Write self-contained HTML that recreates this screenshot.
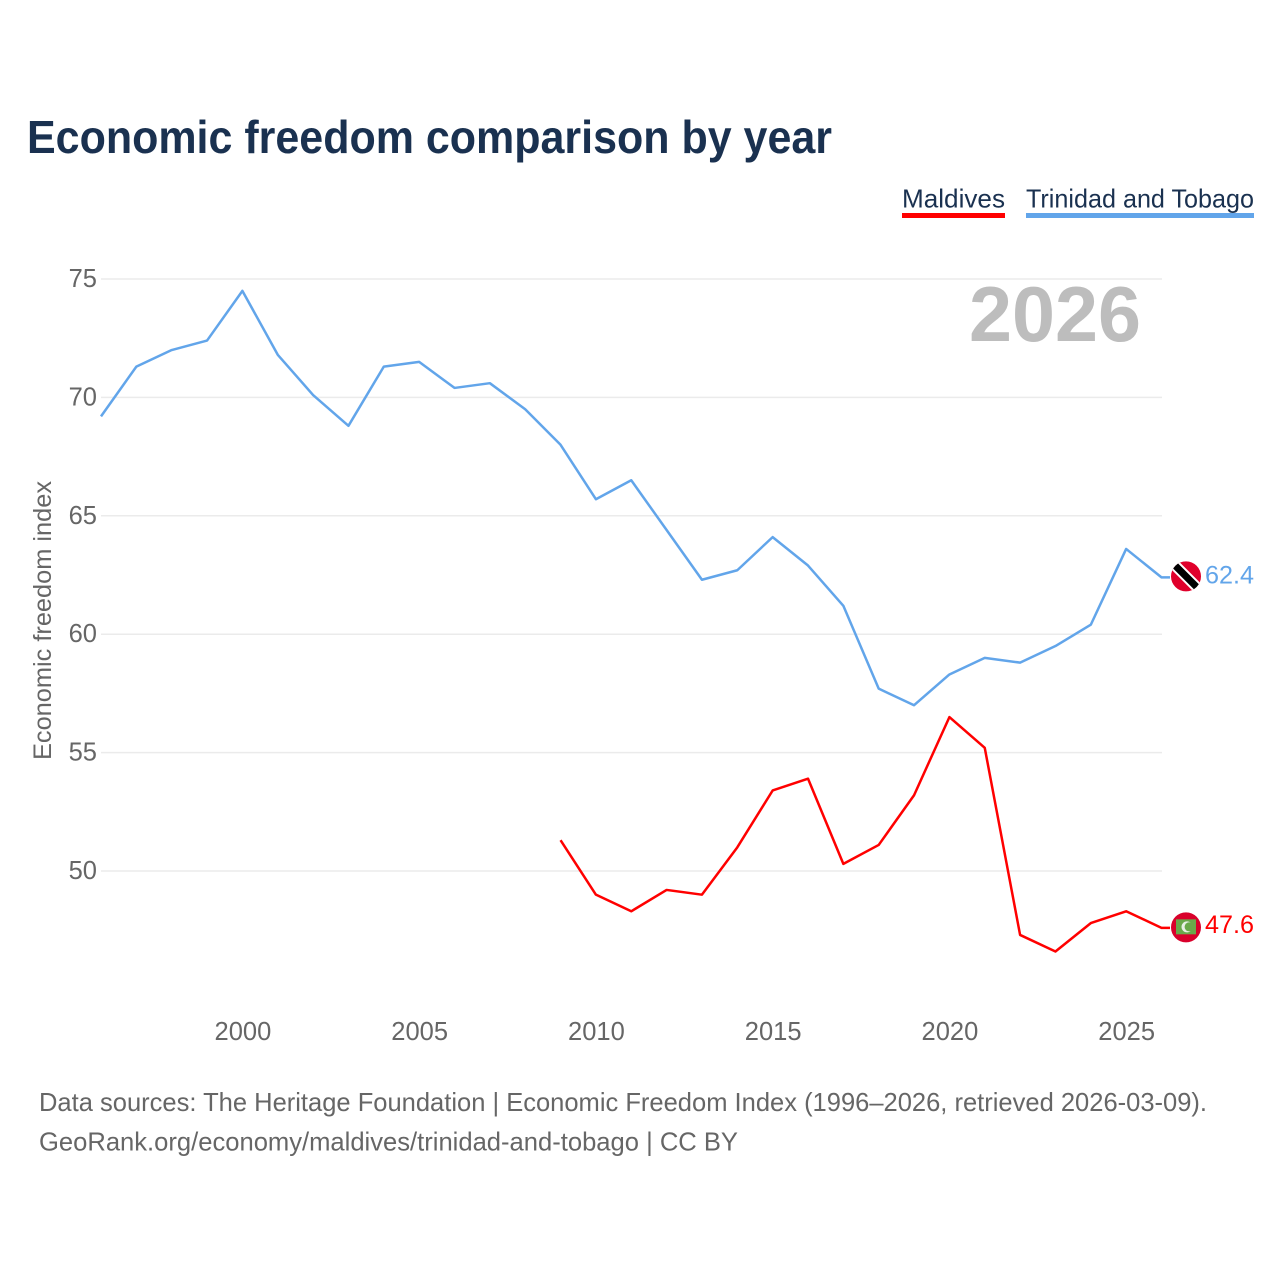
<!DOCTYPE html>
<html lang="en">
<head>
<meta charset="utf-8">
<title>Economic freedom comparison by year</title>
<style>
html,body{margin:0;padding:0;background:#fff;width:1280px;height:1280px;overflow:hidden}
svg{display:block}
text{font-family:"Liberation Sans",sans-serif}
</style>
</head>
<body>
<svg id="chart" xmlns="http://www.w3.org/2000/svg" width="1280" height="1280" viewBox="0 0 1280 1280">
  <text x="27" y="153" font-size="46" font-weight="700" fill="#1a3150" textLength="805" lengthAdjust="spacingAndGlyphs">Economic freedom comparison by year</text>

  <g>
    <g>
      <text x="902" y="207.5" font-size="26" fill="#1a3150" textLength="103" lengthAdjust="spacingAndGlyphs">Maldives</text>
      <rect x="902" y="213" width="103" height="5" fill="#ff0000"/>
    </g>
    <g>
      <text x="1026" y="207.5" font-size="26" fill="#1a3150" textLength="228" lengthAdjust="spacingAndGlyphs">Trinidad and Tobago</text>
      <rect x="1026" y="213" width="228" height="5" fill="#62a5ea"/>
    </g>
  </g>

  <text x="969" y="341" font-size="78" font-weight="700" fill="#bdbdbd" textLength="172" lengthAdjust="spacingAndGlyphs">2026</text>
  <text transform="translate(51,760) rotate(-90)" x="0" y="0" font-size="25" fill="#666666" textLength="279" lengthAdjust="spacingAndGlyphs">Economic freedom index</text>

  <g id="grid"></g>
  <g id="yticks"></g>
  <g id="xticks"></g>
  <g id="series"></g>

  <g id="flag-tt">
    <defs>
      <clipPath id="tt-clip"><circle cx="0" cy="0" r="15"/></clipPath>
    </defs>
    <g clip-path="url(#tt-clip)">
      <rect x="-16" y="-16" width="32" height="32" fill="#e0002b"/>
      <line x1="-16" y1="-16" x2="16" y2="16" stroke="#ffffff" stroke-width="11"/>
      <line x1="-16" y1="-16" x2="16" y2="16" stroke="#000000" stroke-width="7"/>
    </g>
  </g>
  <g id="flag-mv">
    <circle cx="0" cy="0" r="15" fill="#d9002b"/>
    <rect x="-10" y="-8" width="20" height="15" fill="#6aa84a"/>
    <circle cx="1" cy="-0.5" r="5.5" fill="#e8efe4"/>
    <circle cx="3.2" cy="-0.5" r="4.6" fill="#6aa84a"/>
  </g>

  <text id="value-tt" x="1205" y="583" font-size="25" fill="#62a5ea" textLength="49" lengthAdjust="spacingAndGlyphs"></text>
  <text id="value-mv" x="1205" y="934" font-size="25" fill="#ff0000" textLength="49" lengthAdjust="spacingAndGlyphs"></text>

  <g>
    <text x="39" y="1111" font-size="26" fill="#666666" textLength="1168" lengthAdjust="spacingAndGlyphs">Data sources: The Heritage Foundation | Economic Freedom Index (1996–2026, retrieved 2026-03-09).</text>
    <text x="39" y="1150.5" font-size="26" fill="#666666" textLength="699" lengthAdjust="spacingAndGlyphs">GeoRank.org/economy/maldives/trinidad-and-tobago | CC BY</text>
  </g>
</svg>
<script>
const years = [1996,1997,1998,1999,2000,2001,2002,2003,2004,2005,2006,2007,2008,2009,2010,2011,2012,2013,2014,2015,2016,2017,2018,2019,2020,2021,2022,2023,2024,2025,2026];
const trinidadValues = [69.2,71.3,72.0,72.4,74.5,71.8,70.1,68.8,71.3,71.5,70.4,70.6,69.5,68.0,65.7,66.5,64.4,62.3,62.7,64.1,62.9,61.2,57.7,57.0,58.3,59.0,58.8,59.5,60.4,63.6,62.4];
const maldivesValues = [null,null,null,null,null,null,null,null,null,null,null,null,null,51.3,49.0,48.3,49.2,49.0,51.0,53.4,53.9,50.3,51.1,53.2,56.5,55.2,47.3,46.6,47.8,48.3,47.6];
const yTickValues = [50,55,60,65,70,75];
const xTickValues = [2000,2005,2010,2015,2020,2025];

const NS = 'http://www.w3.org/2000/svg';
function xScale(year){ return 101 + (year - 1996) * (1161.5 - 101) / 30; }
function yScale(v){ return 871 + (v - 50) * (279 - 871) / 25; }
function make(tag, attrs, parent){
  const el = document.createElementNS(NS, tag);
  for (const k in attrs) el.setAttribute(k, attrs[k]);
  parent.appendChild(el);
  return el;
}

const grid = document.getElementById('grid');
const yticks = document.getElementById('yticks');
const xticks = document.getElementById('xticks');
const series = document.getElementById('series');

yTickValues.forEach(function(v){
  const line = make('line', {x1:101, x2:1162, y1:yScale(v), y2:yScale(v), stroke:'#ebebeb', 'stroke-width':1.5}, grid);
  
  
  const t = make('text', {x:97, y:yScale(v)+8, 'text-anchor':'end', 'font-size':25.5, fill:'#666666'}, yticks);
  
  
  t.textContent = v;
});

xTickValues.forEach(function(y){
  const t = make('text', {x:xScale(y)+0.5, y:1040, 'text-anchor':'middle', 'font-size':25.5, fill:'#666666'}, xticks);
  
  
  t.textContent = y;
});

function linePath(values){
  let d = '';
  let lastY = null;
  values.forEach(function(v, i){
    if (v === null) return;
    lastY = yScale(v);
    d += (d ? 'L' : 'M') + xScale(years[i]).toFixed(2) + ' ' + lastY.toFixed(2);
  });
  return d + 'L1170 ' + lastY.toFixed(2);
}

const ttLine = make('path', {d:linePath(trinidadValues), fill:'none', stroke:'#62a5ea', 'stroke-width':2.5, 'stroke-linejoin':'round'}, series);



const mvLine = make('path', {d:linePath(maldivesValues), fill:'none', stroke:'#ff0000', 'stroke-width':2.5, 'stroke-linejoin':'round'}, series);



const ttLast = trinidadValues[trinidadValues.length - 1];
const mvLast = maldivesValues[maldivesValues.length - 1];
document.getElementById('flag-tt').setAttribute('transform', 'translate(1186,' + (yScale(ttLast) - 1) + ')');
document.getElementById('flag-mv').setAttribute('transform', 'translate(1186,' + (yScale(mvLast) - 0.5) + ')');
const vt = document.getElementById('value-tt');
vt.textContent = ttLast.toFixed(1);
vt.setAttribute('y', yScale(ttLast) + 6);
const vm = document.getElementById('value-mv');
vm.textContent = mvLast.toFixed(1);
vm.setAttribute('y', yScale(mvLast) + 5);
</script>
</body>
</html>
